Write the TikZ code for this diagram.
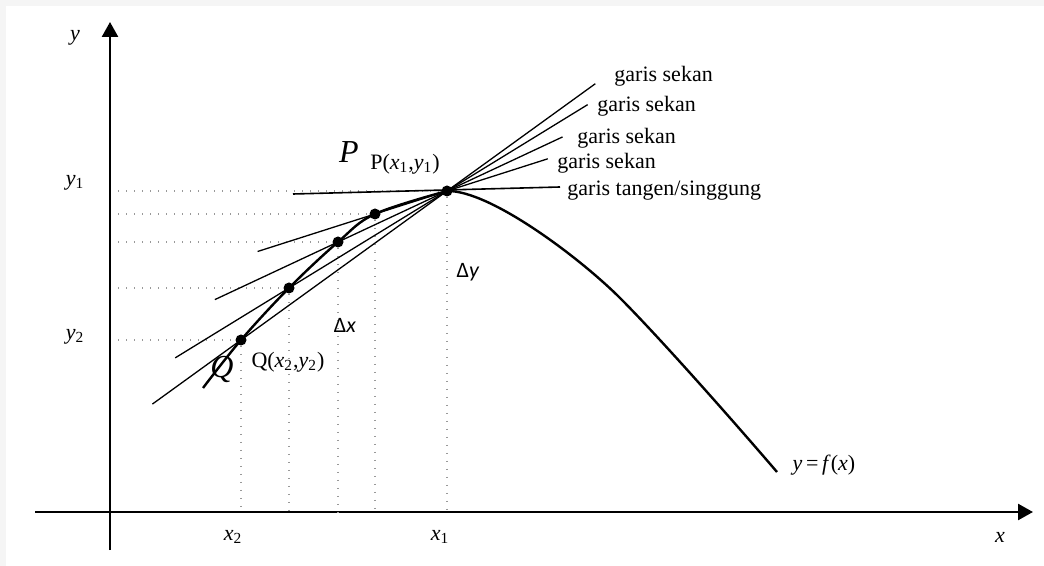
\documentclass[tikz,border=0pt]{standalone}
\usepackage{fontspec}
\setmainfont{Liberation Serif}
\newfontfamily\calib{Carlito}
\usepackage{tikz}
\usetikzlibrary{arrows.meta, calc}
\tikzset{
  x=0.5pt, y=-0.5pt,
  axis/.style={line width=1.25pt, -{Triangle[length=7.5pt,width=8pt]}},
  curve/.style={line width=1.2pt, line join=round},
  secant/.style={line width=0.65pt},
  guide/.style={gray!80, line width=0.6pt, dash pattern=on 0.6pt off 3.4pt},
  dot/.style={circle, fill, inner sep=0pt, minimum size=5.5pt},
  lbl/.style={font=\fontsize{11}{13}\selectfont, inner sep=1pt},
}
\newcommand{\idx}[2]{\textit{#1}\textsubscript{#2}}

\begin{document}
\begin{tikzpicture}
  % frame
  \fill[gray!8] (0,0) rectangle (1044,566);
  \fill[white] (6,6) rectangle (1044,566);

  % axes
  \coordinate (o) at (110,512);
  \coordinate (ya) at (118,512);
  \draw[axis] (110,550) -- (110,22);
  \draw[axis] (35,512) -- (1033,512);

  % points on the curve
  \node[dot] (P) at (447,191) {};
  \node[dot] (A) at (375,214) {};
  \node[dot] (B) at (338,242) {};
  \node[dot] (C) at (289,288) {};
  \node[dot] (Q) at (241,340) {};

  % guides
  \foreach \p in {P,A,B,C,Q} {
    \draw[guide] (ya |- \p) -- (\p);
    \draw[guide] (\p) -- (\p |- o);
  }

  % secants and tangent
  \foreach \p/\a/\b in {Q/1.43/-0.72, C/1.72/-0.89, B/2.13/-1.06, A/2.63/-1.40}
    \draw[secant] ($(P)!\a!(\p)$) -- ($(P)!\b!(\p)$);
  \coordinate (t1) at (293,194);
  \coordinate (t2) at (560,187);
  \draw[line width=0.8pt] (t1) -- (t2);

  % curve
  \coordinate (c0) at (203,388);
  \coordinate (c1) at (620,298);
  \coordinate (c2) at (777,472);
  \draw[curve] plot[smooth, tension=0.6] coordinates {(c0) (Q) (C) (B) (A) (P)}
    .. controls (490,190) and (580,258) .. (c1)
    .. controls (660,338) and (735,423) .. (c2);

  % labels
  \node[lbl] (ly) at (75,38) {\textit{y}};
  \node[lbl] (ly1) at (75,183) {\idx{y}{1}};
  \node[lbl] (ly2) at (75,337) {\idx{y}{2}};
  \node[lbl] (lx2) at (233,537) {\idx{x}{2}};
  \node[lbl] (lx1) at (440,537) {\idx{x}{1}};
  \node[lbl] (lx) at (1000,537) {\textit{x}};
  \node[lbl, font=\fontsize{16}{18}\selectfont] (lP) at (349,152) {\textit{P}};
  \node[lbl] (lPc) at (405,164) {P(\idx{x}{1},\idx{y}{1})};
  \node[lbl, font=\fontsize{16}{18}\selectfont] (lQ) at (222,370) {\textit{Q}};
  \node[lbl] (lQc) at (288,362) {Q(\idx{x}{2},\idx{y}{2})};
  \node[lbl, font=\calib\fontsize{11}{13}\selectfont] (ldy) at (468,272) {Δ\textit{y}};
  \node[lbl, font=\calib\fontsize{11}{13}\selectfont] (ldx) at (345,325) {Δ\textit{x}};
  \node[lbl] (lf) at (824,465) {\textit{y}\,=\,\textit{f}(\textit{x})};
  \node[lbl, anchor=west] (s1) at (612,76) {garis sekan};
  \node[lbl, anchor=west] (s2) at (595,106) {garis sekan};
  \node[lbl, anchor=west] (s3) at (575,138) {garis sekan};
  \node[lbl, anchor=west] (s4) at (555,163) {garis sekan};
  \node[lbl, anchor=west] (s5) at (565,191) {garis tangen/singgung};
\end{tikzpicture}
\end{document}
